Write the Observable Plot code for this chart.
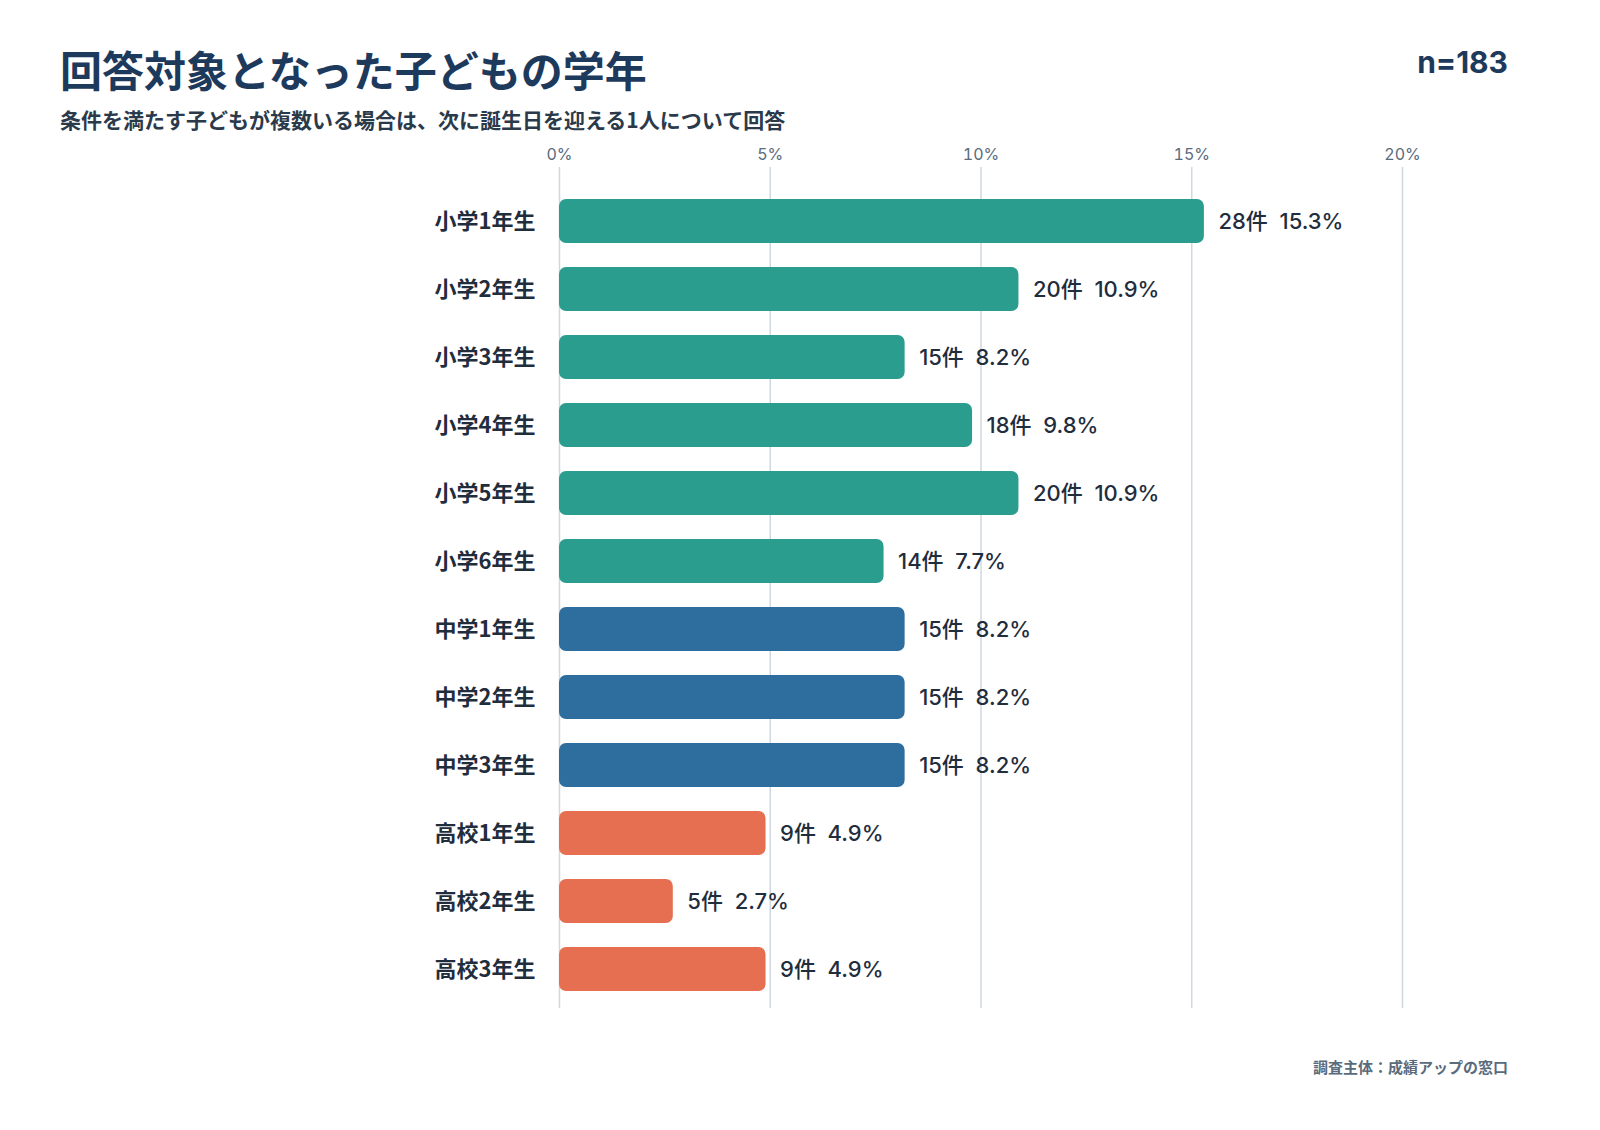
<!DOCTYPE html>
<html><head><meta charset="utf-8">
<script src="https://cdn.jsdelivr.net/npm/d3@7"></script>
<script src="https://cdn.jsdelivr.net/npm/@observablehq/plot@0.6"></script>
<style>
html,body{margin:0;background:#fff;overflow:hidden;font-family:"Noto Sans CJK JP","Noto Sans",sans-serif;}
#wrap{position:relative;width:1600px;height:1130px;overflow:hidden;}
.t{position:absolute;color:#1d3a5c;font-weight:700;white-space:nowrap;}
</style></head><body>
<div id="wrap">
<div class="t" style="left:60px;top:38px;font-size:42px;">回答対象となった子どもの学年</div>
<div class="t" style="left:60px;top:104px;font-size:21px;color:#2b3a4a;">条件を満たす子どもが複数いる場合は、次に誕生日を迎える1人について回答</div>
<div class="t" style="right:92px;top:44px;font-size:30px;font-family:Inter,'Noto Sans CJK JP';">n=183</div>
<div class="t" style="right:92px;top:1056px;font-size:15px;color:#5a6b7c;">調査主体：成績アップの窓口</div>
<div id="chart" style="position:absolute;left:0;top:0;"></div>
</div>
<script>
const grades=["小学1年生","小学2年生","小学3年生","小学4年生","小学5年生","小学6年生","中学1年生","中学2年生","中学3年生","高校1年生","高校2年生","高校3年生"];
const counts=[28,20,15,18,20,14,15,15,15,9,5,9];
const pcts=[15.3,10.9,8.2,9.8,10.9,7.7,8.2,8.2,8.2,4.9,2.7,4.9];
const groups=["小学","小学","小学","小学","小学","小学","中学","中学","中学","高校","高校","高校"];
const ticks=[0,5,10,15,20];
const data=grades.map((g,i)=>({g,c:counts[i],p:pcts[i],grp:groups[i]}));
const chart=Plot.plot({
  width:1600,height:1130,marginLeft:559,marginRight:198,marginTop:187,marginBottom:126,
  style:{fontFamily:'Inter,"Noto Sans CJK JP","Noto Sans",sans-serif'},
  x:{domain:[0,20],axis:null,label:null},
  y:{domain:grades,paddingInner:0.35,paddingOuter:0.175,axis:null,label:null},
  color:{domain:["小学","中学","高校"],range:["#2a9d8f","#2e6e9e","#e76f51"]},
  marks:[
    Plot.ruleX(ticks,{x:d=>d,stroke:"#cfd8e0",strokeWidth:1.5,insetTop:-20,insetBottom:-4}),
    Plot.axisX(ticks,{anchor:"top",label:null,tickSize:0,tickPadding:28,tickFormat:d=>d+"%",fontSize:16,fill:"#5a6b7c"}),
    Plot.barX(data,{y:"g",x:"p",fill:"grp",rx:7}),
    Plot.text(data,{y:"g",x:"p",text:d=>`${d.c}件  ${d.p}%`,textAnchor:"start",dx:14,fontSize:22,fill:"#1f2d3d",fontWeight:500}),
    Plot.text(data,{y:"g",x:0,text:"g",textAnchor:"end",dx:-24,fontSize:22,fontWeight:700,fill:"#1f2d3d",fontFamily:'"Noto Sans CJK JP",sans-serif'})
  ]
});
document.getElementById("chart").append(chart);
</script>
</body></html>
